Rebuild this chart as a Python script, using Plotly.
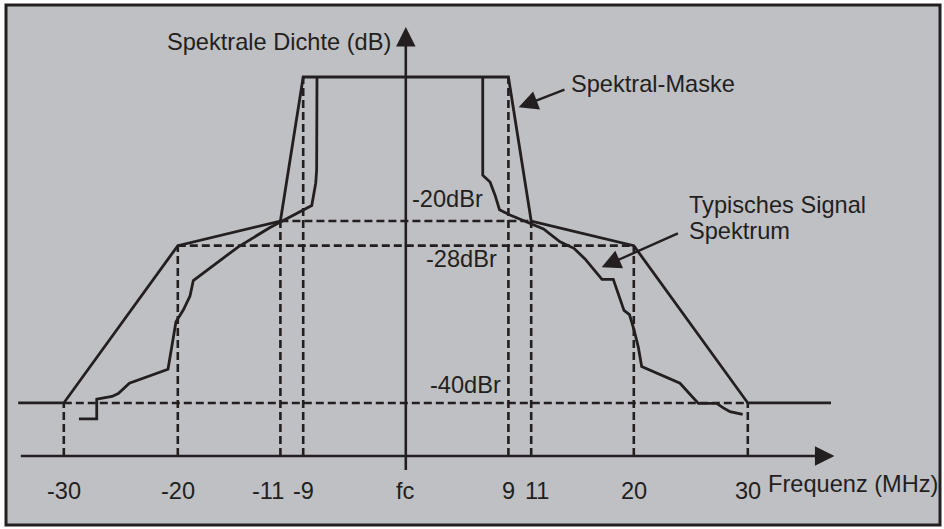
import plotly.graph_objects as go

# ---------------- data (x in MHz offset from fc, y in schematic level units: 0 = frequency axis, 100 = 0 dBr) -----
mask_freq = [-34.0, -30, -20, -11, -9, 9, 11, 20, 30, 37.3]
mask_level = [14.0, 14.0, 55.5, 62.0, 100, 100, 62.0, 55.5, 14.0, 14.0]

sig_left_freq = [-28.67, -27.11, -27.11, -26.39, -25.77, -25.22, -24.72, -24.25, -20.86, -20.16,
                 -19.52, -18.93, -18.64, -14.69, -11.91, -8.25, -7.90, -7.82, -7.79]
sig_left_level = [9.8, 9.8, 15.0, 15.3, 15.7, 16.5, 17.9, 19.2, 22.9, 35.4,
                  38.5, 42.2, 46.3, 55.2, 60.3, 66.1, 72.0, 75.5, 100]

sig_right_freq = [6.75, 6.75, 7.39, 7.82, 8.22, 9.14, 12.08, 13.53, 14.75, 15.72, 17.21, 18.20,
                  19.14, 19.62, 20.02, 20.39, 20.69, 24.05, 25.66, 27.27, 27.85, 28.44, 29.55]
sig_right_level = [100, 74.1, 72.3, 68.9, 65.0, 63.6, 59.9, 56.5, 54.8, 52.0, 46.6, 46.6,
                   38.4, 37.3, 33.3, 28.8, 23.6, 19.2, 13.9, 13.9, 12.7, 11.7, 11.0]

tick_vals = [-30, -20, -11, -9, 0, 9, 11, 20, 30]
tick_text = ["-30", "-20", "-11", "-9", "fc", "9", "11", "20", "30"]
tick_level = [14.0, 55.5, 62.0, 100, None, 100, 62.0, 55.5, 14.0]   # height of each dashed guide

ref_freqs = [30, 20, 11]                 # half-width of the horizontal guides
ref_levels = [14.0, 55.5, 62.0]
ref_labels = ["-40dBr", "-28dBr", "-20dBr"]

INK = "#231f20"
BG = "#bfc0c4"
FONT = "Liberation Sans, Arial, Helvetica, sans-serif"
FS = 23.6

fig = go.Figure()

# dashed guides (vertical)
for f, lv in zip(tick_vals, tick_level):
    if lv is None:
        continue
    fig.add_trace(go.Scatter(x=[f, f], y=[0, lv], mode="lines",
                             line=dict(color=INK, width=2.6, dash="8px,4px"),
                             hoverinfo="skip"))
# dashed guides (horizontal)
for f, lv in zip(ref_freqs, ref_levels):
    fig.add_trace(go.Scatter(x=[-f, f], y=[lv, lv], mode="lines",
                             line=dict(color=INK, width=2.6, dash="8px,4px"),
                             hoverinfo="skip"))

# spectral mask
fig.add_trace(go.Scatter(x=mask_freq, y=mask_level, mode="lines",
                         line=dict(color=INK, width=2.8), hoverinfo="skip"))
# typical signal spectrum
fig.add_trace(go.Scatter(x=sig_left_freq, y=sig_left_level, mode="lines",
                         line=dict(color=INK, width=2.8), hoverinfo="skip"))
fig.add_trace(go.Scatter(x=sig_right_freq, y=sig_right_level, mode="lines",
                         line=dict(color=INK, width=2.8), hoverinfo="skip"))

ann = []
# axis arrows
ann.append(dict(x=37.6, y=0, ax=-33.9, ay=0, xref="x", yref="y", axref="x", ayref="y",
                text="", showarrow=True, arrowhead=2, arrowsize=1.5, arrowwidth=2.6,
                arrowcolor=INK, standoff=0))
ann.append(dict(x=0, y=113.2, ax=0, ay=-4.1, xref="x", yref="y", axref="x", ayref="y",
                text="", showarrow=True, arrowhead=2, arrowsize=1.5, arrowwidth=2.6,
                arrowcolor=INK, standoff=0))

# tick labels
label_shift = {"-11": -12, "11": 6}
for v, t in zip(tick_vals, tick_text):
    ann.append(dict(x=v, y=-9.2, xref="x", yref="y", text=t, showarrow=False,
                    xanchor="center", yanchor="middle", xshift=label_shift.get(t, 0),
                    font=dict(family=FONT, size=FS, color=INK)))

# level labels
lab_pos = {"-20dBr": (6.95, 67.8), "-28dBr": (8.2, 52.0), "-40dBr": (8.5, 18.8)}
for lab in ref_labels:
    px_, py_ = lab_pos[lab]
    ann.append(dict(x=px_, y=py_, xref="x", yref="y", text=lab, showarrow=False,
                    xanchor="right", yanchor="middle",
                    font=dict(family=FONT, size=FS, color=INK)))

# axis titles
ann.append(dict(x=-1.1, y=109.2, xref="x", yref="y", text="Spektrale Dichte (dB)", showarrow=False,
                xanchor="right", yanchor="middle", font=dict(family=FONT, size=FS, color=INK)))
ann.append(dict(x=31.6, y=-7.3, xref="x", yref="y", text="Frequenz (MHz)", showarrow=False,
                xanchor="left", yanchor="middle", font=dict(family=FONT, size=FS, color=INK)))

# callouts
ann.append(dict(x=14.3, y=98.2, xref="x", yref="y", text="Spektral-Maske", showarrow=False,
                xanchor="left", yanchor="middle", font=dict(family=FONT, size=FS, color=INK)))
ann.append(dict(x=9.9, y=92.0, ax=14.05, ay=96.8, xref="x", yref="y", axref="x", ayref="y",
                text="", showarrow=True, arrowhead=2, arrowsize=1.6, arrowwidth=2.4,
                arrowcolor=INK, standoff=0))
ann.append(dict(x=24.65, y=66.1, xref="x", yref="y", text="Typisches Signal", showarrow=False,
                xanchor="left", yanchor="middle", font=dict(family=FONT, size=FS, color=INK)))
ann.append(dict(x=24.65, y=59.4, xref="x", yref="y", text="Spektrum", showarrow=False,
                xanchor="left", yanchor="middle", font=dict(family=FONT, size=FS, color=INK)))
ann.append(dict(x=17.18, y=49.8, ax=24.0, ay=58.9, xref="x", yref="y", axref="x", ayref="y",
                text="", showarrow=True, arrowhead=2, arrowsize=1.6, arrowwidth=2.4,
                arrowcolor=INK, standoff=0))

fig.update_layout(
    width=944, height=529,
    margin=dict(l=0, r=0, t=0, b=0),
    paper_bgcolor="white",
    plot_bgcolor="rgba(0,0,0,0)",
    showlegend=False,
    xaxis=dict(range=[-35.596, 47.21], visible=False, fixedrange=True),
    yaxis=dict(range=[-19.26, 120.32], visible=False, fixedrange=True),
    annotations=ann,
    shapes=[dict(type="rect", xref="paper", yref="paper",
                 x0=6 / 944, x1=940 / 944, y0=1 - 525 / 529, y1=1 - 5 / 529,
                 fillcolor=BG, line=dict(color=INK, width=3), layer="below")],
)

fig.write_html("out.html", config={"displayModeBar": False},
               post_script="document.body.style.margin='0';document.body.style.overflow='hidden';")
